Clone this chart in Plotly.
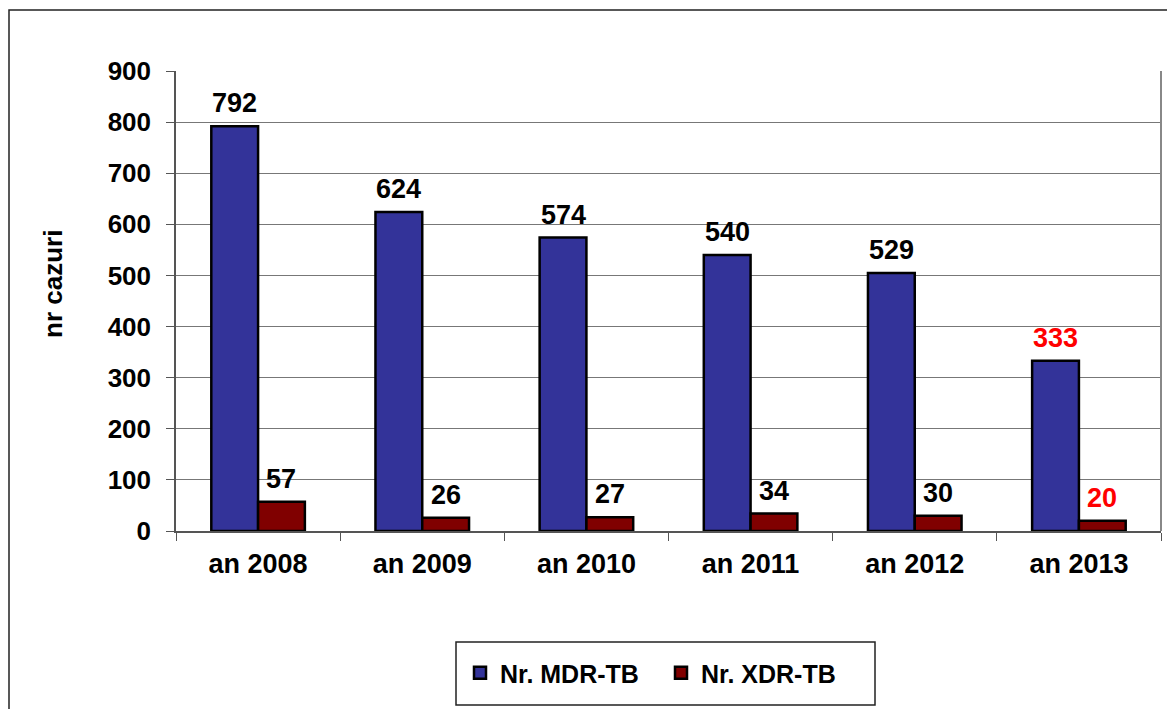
import plotly.graph_objects as go

categories = ["an 2008", "an 2009", "an 2010", "an 2011", "an 2012", "an 2013"]
mdr_values = [792, 624, 574, 540, 505, 333]
mdr_labels = ["792", "624", "574", "540", "529", "333"]
xdr_values = [57, 26, 27, 34, 30, 20]
xdr_labels = ["57", "26", "27", "34", "30", "20"]
label_colors = ["black", "black", "black", "black", "black", "red"]
y_ticks = [0, 100, 200, 300, 400, 500, 600, 700, 800, 900]

FONT = "Liberation Sans, Arial, sans-serif"
BODY = 8  # html body margin offset
PL, PR, PT, PB = 176, 1161, 71, 531  # plot area in page pixels
W, H = 1175, 709
PW, PH = PR - PL, PB - PT


def px_x(x):
    return (x - PL) / PW


def px_y(y):
    return (PB - y) / PH


fig = go.Figure()
fig.add_trace(go.Bar(
    x=categories, y=mdr_values, name="Nr. MDR-TB",
    marker=dict(color="#333399", line=dict(color="black", width=2.5)),
))
fig.add_trace(go.Bar(
    x=categories, y=xdr_values, name="Nr. XDR-TB",
    marker=dict(color="#800000", line=dict(color="black", width=2.5)),
))

bargap = 0.43
bar_px = PW / len(categories) * (1 - bargap) / 2
annotations = []
for cat, v, t, c in zip(categories, mdr_values, mdr_labels, label_colors):
    annotations.append(dict(x=cat, y=v, text=t, showarrow=False, yanchor="bottom",
                            xshift=-bar_px / 2, yshift=6,
                            font=dict(family=FONT, size=27, color=c, weight="bold")))
for cat, v, t, c in zip(categories, xdr_values, xdr_labels, label_colors):
    annotations.append(dict(x=cat, y=v, text=t, showarrow=False, yanchor="bottom",
                            xshift=bar_px / 2, yshift=6,
                            font=dict(family=FONT, size=27, color=c, weight="bold")))
annotations.append(dict(xref="paper", yref="paper", x=px_x(53), y=px_y(284),
                        text="nr cazuri", textangle=-90, showarrow=False,
                        xanchor="center", yanchor="middle",
                        font=dict(family=FONT, size=26, color="black", weight="bold")))

fig.update_layout(
    width=W, height=H,
    margin=dict(l=PL - BODY, r=W - (PR - BODY), t=PT - BODY, b=H - (PB - BODY)),
    paper_bgcolor="white", plot_bgcolor="white",
    font=dict(family=FONT, size=22, color="black", weight="bold"),
    barmode="group", bargap=bargap, bargroupgap=0,
    annotations=annotations,
    legend=dict(
        orientation="h", x=px_x(460), xanchor="left", y=px_y(673), yanchor="middle",
        borderwidth=0, bgcolor="rgba(0,0,0,0)",
        font=dict(family=FONT, size=25, color="black", weight="bold"),
        itemwidth=30, entrywidth=156, tracegroupgap=0,
    ),
    showlegend=True,
)

fig.update_yaxes(
    range=[0, 900], tickvals=y_ticks, autorange=False,
    showgrid=True, gridcolor="#777777", gridwidth=1,
    showline=True, linecolor="#555555", linewidth=1.5,
    ticks="outside", ticklen=8, tickcolor="#555555",
    ticklabelstandoff=10,
    tickfont=dict(family=FONT, size=26, color="black", weight="bold"),
    zeroline=False,
)
fig.update_xaxes(
    showline=True, linecolor="#555555", linewidth=1.5,
    ticks="outside", ticklen=8, tickcolor="#555555", tickson="boundaries",
    ticklabelstandoff=8,
    tickfont=dict(family=FONT, size=27, color="black", weight="bold"),
    showgrid=False,
)

# plot area right border
fig.add_shape(type="line", xref="paper", yref="paper", x0=1, x1=1, y0=0, y1=1,
              line=dict(color="#888888", width=2))
# outer chart border
fig.add_shape(type="rect", xref="paper", yref="paper",
              x0=px_x(9), x1=px_x(1200), y0=px_y(740), y1=px_y(10),
              line=dict(color="#222222", width=1.5), layer="below")
# legend box
fig.add_shape(type="rect", xref="paper", yref="paper",
              x0=px_x(456), x1=px_x(875), y0=px_y(705), y1=px_y(642),
              line=dict(color="#222222", width=1.5), fillcolor="white", layer="below")

fig.write_html("out.html")
